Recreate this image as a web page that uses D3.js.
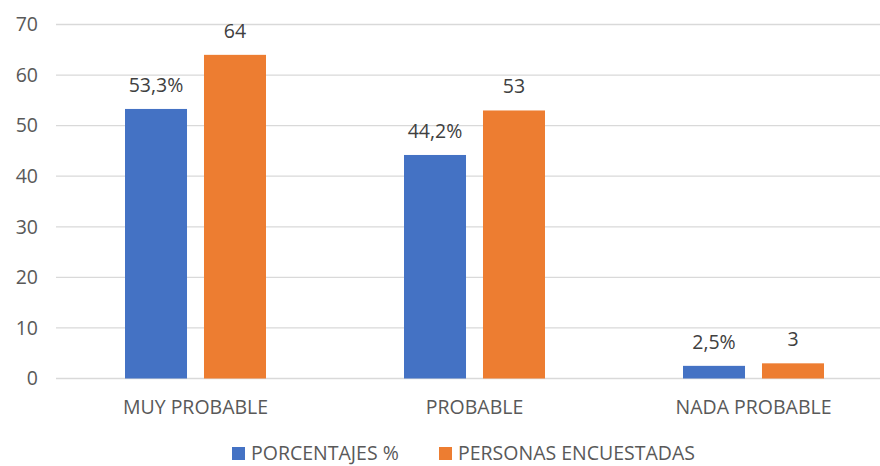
<!DOCTYPE html>
<html>
<head>
<meta charset="utf-8">
<script src="https://cdn.jsdelivr.net/npm/d3@7"></script>
<style>
  body { margin: 0; background: #fff; }
  svg text { font-family: "Open Sans", "Liberation Sans", sans-serif; }
</style>
</head>
<body>
<svg width="880" height="466"></svg>
<script>
// chart data
var categories = ['MUY PROBABLE', 'PROBABLE', 'NADA PROBABLE'];
var seriesNames = ['PORCENTAJES %', 'PERSONAS ENCUESTADAS'];
var porcentajes = [53.3, 44.2, 2.5];
var personas = [64, 53, 3];
var yTicks = [0, 10, 20, 30, 40, 50, 60, 70];
var colors = ['#4472c4', '#ed7d31'];

var svg = d3.select("svg");

var plotLeft = 56, plotRight = 893, plotTop = 24.5, plotBottom = 378.5;
var fs = "19.5px";

var x0 = d3.scaleBand().domain(categories).range([plotLeft, plotRight]);
var x1 = d3.scaleBand().domain(seriesNames).range([69, 210]).paddingInner(0.215);
var y = d3.scaleLinear().domain([0, 70]).range([plotBottom, plotTop]);

// gridlines
svg.append("g")
  .selectAll("line")
  .data(yTicks)
  .enter()
  .append("line")
  .attr("x1", plotLeft)
  .attr("x2", plotRight)
  .attr("y1", function(d) { return y(d); })
  .attr("y2", function(d) { return y(d); })
  .attr("stroke", "#d9d9d9")
  .attr("stroke-width", 1.3);

// y axis labels
var yAxis = svg.append("g")
  .attr("transform", "translate(" + 38 + ",0)")
  .call(d3.axisLeft(y).tickValues(yTicks).tickSize(0).tickPadding(0));
yAxis.select(".domain").remove();
yAxis.selectAll("text")
  .style("font-size", fs)
  .attr("fill", "#595959");

// x axis labels
var xAxis = svg.append("g")
  .attr("transform", "translate(0," + plotBottom + ")")
  .call(d3.axisBottom(x0).tickSize(0).tickPadding(22));
xAxis.select(".domain").remove();
xAxis.selectAll("text")
  .style("font-size", fs)
  .attr("fill", "#595959");

var rows = categories.map(function(c, i) {
  return {cat: c, vals: [
    {s: seriesNames[0], v: porcentajes[i], label: String(porcentajes[i]).replace('.', ',') + '%'},
    {s: seriesNames[1], v: personas[i], label: String(personas[i])}
  ]};
});

var groups = svg.append("g")
  .selectAll("g")
  .data(rows)
  .enter()
  .append("g")
  .attr("transform", function(d) { return "translate(" + x0(d.cat) + ",0)"; });

groups.selectAll("rect")
  .data(function(d) { return d.vals; })
  .enter()
  .append("rect")
  .attr("x", function(d) { return x1(d.s); })
  .attr("y", function(d) { return y(d.v); })
  .attr("width", x1.bandwidth())
  .attr("height", function(d) { return plotBottom - y(d.v); })
  .attr("fill", function(d, i) { return colors[i]; });

groups.selectAll("text")
  .data(function(d) { return d.vals; })
  .enter()
  .append("text")
  .attr("x", function(d) { return x1(d.s) + x1.bandwidth() / 2; })
  .attr("y", function(d) { return y(d.v) - 17; })
  .attr("text-anchor", "middle")
  .style("font-size", fs)
  .attr("fill", "#404040")
  .text(function(d) { return d.label; });

// legend
var legendX = [232, 439];
var legend = svg.append("g")
  .selectAll("g")
  .data(seriesNames)
  .enter()
  .append("g")
  .attr("transform", function(d, i) { return "translate(" + legendX[i] + ",447)"; });

legend.append("rect")
  .attr("width", 13)
  .attr("height", 13)
  .attr("fill", function(d, i) { return colors[i]; });

legend.append("text")
  .attr("x", 19)
  .attr("y", 13)
  .style("font-size", fs)
  .attr("fill", "#595959")
  .text(function(d) { return d; });
</script>
</body>
</html>
